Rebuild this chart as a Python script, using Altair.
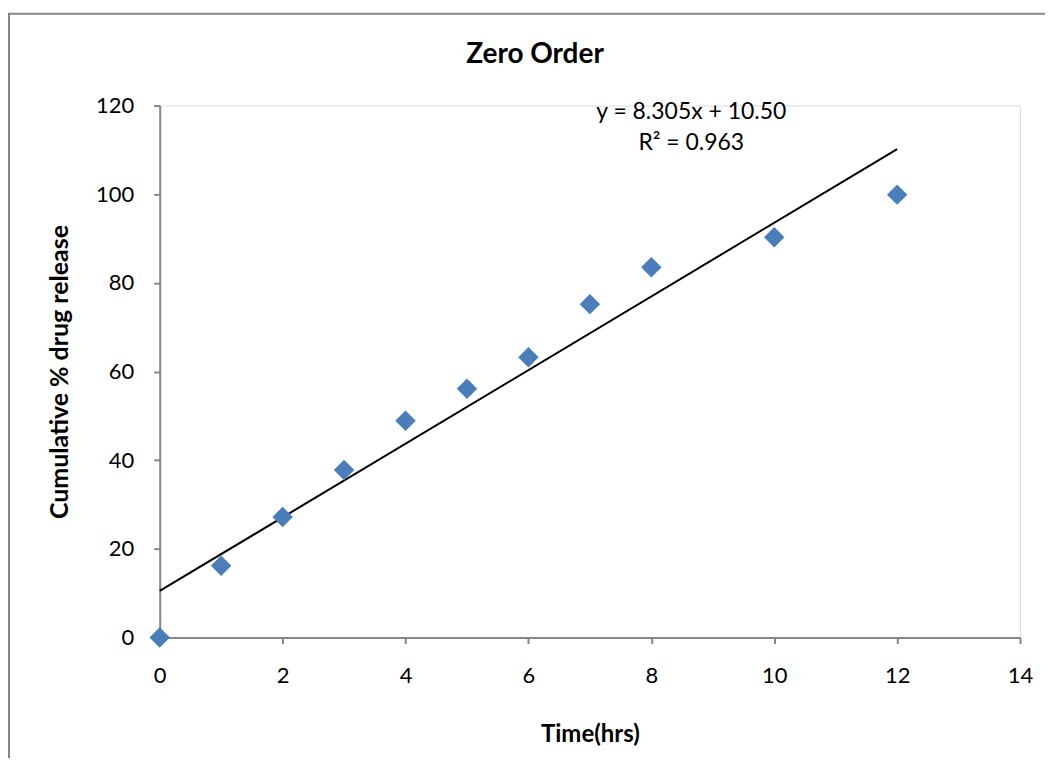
import altair as alt
import pandas as pd

# Observed data
time_hrs = [0, 1, 2, 3, 4, 5, 6, 7, 8, 10, 12]
release = [0.0, 16.2, 27.2, 37.8, 48.9, 56.1, 63.2, 75.2, 83.5, 90.3, 99.9]

# Linear trendline (from the chart's equation y = 8.305x + 10.50)
trend_x = [0, 12]
trend_y = [10.50, 110.16]

eq_lines = ["y = 8.305x + 10.50", "R² = 0.963"]
eq_x = [8.65, 8.65]
eq_y = [118.6, 111.6]

chart_title = ["Zero Order"]

FONT = "Lato"
GRAY = "#868686"

pts = pd.DataFrame({"t": time_hrs, "r": release})
tr = pd.DataFrame({"t": trend_x, "r": trend_y})
eq = pd.DataFrame({"txt": eq_lines, "t": eq_x, "r": eq_y})
ttl = pd.DataFrame({"txt": chart_title})

xs = alt.Scale(domain=[0, 14], nice=False, zero=True)
ys = alt.Scale(domain=[0, 120], nice=False)

x_axis = alt.Axis(
    title="Time(hrs)", values=list(range(0, 15, 2)), format="d", grid=False,
    labelFlush=False,
    domainColor=GRAY, domainWidth=2, tickColor=GRAY, tickWidth=2, tickSize=6,
    labelFont=FONT, labelFontSize=22, labelColor="black", labelPadding=22,
    titleFont=FONT, titleFontSize=24, titleFontWeight="bold", titleColor="black",
    titleX=431, titleY=97, titleBaseline="middle", titleAlign="center",
)
y_axis = alt.Axis(
    title="Cumulative % drug release", values=list(range(0, 121, 20)), format="d", grid=False,
    labelFlush=False,
    domainColor=GRAY, domainWidth=2, tickColor=GRAY, tickWidth=2, tickSize=6,
    labelFont=FONT, labelFontSize=22, labelColor="black", labelPadding=20,
    titleFont=FONT, titleFontSize=25, titleFontWeight="bold", titleColor="black",
    titleX=-100, titleY=266.5, titleAngle=-90, titleBaseline="middle", titleAlign="center",
)

border = alt.Chart(pd.DataFrame({"a": [0]})).mark_rect(
    fillOpacity=0, stroke=GRAY, strokeWidth=2
).encode(
    x=alt.value(-151), x2=alt.value(1100), y=alt.value(-92), y2=alt.value(800)
)

title_mark = alt.Chart(ttl).mark_text(
    font=FONT, fontSize=28, fontWeight="bold", color="black",
    align="center", baseline="middle"
).encode(x=alt.value(376), y=alt.value(-51), text="txt:N")

line = alt.Chart(tr).mark_line(color="black", strokeWidth=2).encode(
    x=alt.X("t:Q", scale=xs, axis=x_axis),
    y=alt.Y("r:Q", scale=ys, axis=y_axis),
)

points = alt.Chart(pts).mark_point(
    shape="diamond", filled=True, color="#4A7EBB", size=420, opacity=1
).encode(x=alt.X("t:Q", scale=xs), y=alt.Y("r:Q", scale=ys))

text = alt.Chart(eq).mark_text(
    font=FONT, fontSize=23, color="black", align="center", baseline="middle"
).encode(x=alt.X("t:Q", scale=xs), y=alt.Y("r:Q", scale=ys), text="txt:N")

chart = alt.layer(border, title_mark, line, points, text).properties(
    width=862, height=533,
    autosize=alt.AutoSizeParams(type="none"),
    padding={"left": 152, "top": 97, "right": 25, "bottom": 120},
).configure_view(stroke=None).configure(background="white")

chart.save("out.html", embed_options={"renderer": "svg", "actions": False})
